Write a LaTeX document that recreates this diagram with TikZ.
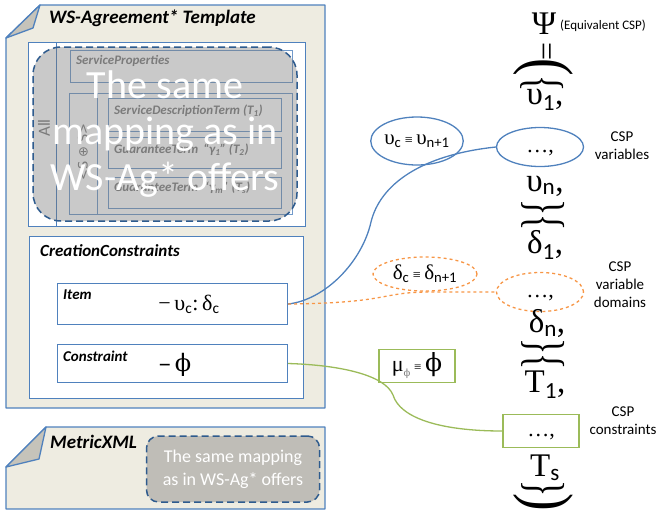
\documentclass[tikz,border=0pt]{standalone}
\usepackage{fontspec}
\usepackage{graphicx}
\setmainfont{Carlito}
\newfontfamily\grk{Liberation Serif}
\newfontfamily\phif{DejaVu Serif}
\newfontfamily\symf{DejaVu Sans}
\usetikzlibrary{shapes.geometric,positioning}

\definecolor{wsblue}{HTML}{4F81BD}
\definecolor{wsbeige}{HTML}{EEECE1}
\definecolor{wsfold}{HTML}{C5C3BA}
\definecolor{wsdash}{HTML}{2E5B8E}
\definecolor{wsgray}{HTML}{808080}
\definecolor{cspgreen}{HTML}{9BBB59}
\definecolor{csporange}{HTML}{F79646}

\newcommand{\cspsub}[1]{\textsubscript{\normalfont #1}}
\newcommand{\hbrace}[1]{\scalebox{0.65}[1]{#1}}

\tikzset{
  note/.style={draw=wsblue, fill=wsbeige, line width=1.3pt, line join=round},
  fold/.style={draw=wsblue, fill=wsfold, line width=1.3pt, line join=round},
  part/.style={draw=wsblue, fill=white, line width=1pt, inner sep=0pt, anchor=north west},
  term/.style={draw=wsblue!80, line width=0.7pt, inner sep=0pt, anchor=north west},
  tag/.style={anchor=west, inner sep=0pt, font=\bfseries\itshape\fontsize{15}{17}\selectfont},
  termtext/.style={anchor=west, inner sep=0pt, text=wsgray, font=\bfseries\itshape\fontsize{13}{15}\selectfont},
  same/.style={draw=wsdash, dash pattern=on 7pt off 4pt, line width=1.5pt, fill=black!55,
    fill opacity=0.38, text opacity=1, text=white, align=center, rounded corners=28pt, inner sep=0pt},
  tuple/.style={inner sep=0pt, font=\grk\fontsize{33}{36}\selectfont},
  bracket/.style={inner sep=0pt, rotate=-90, font=\grk\fontsize{52}{52}\selectfont},
  csplabel/.style={align=center, inner sep=0pt, font=\fontsize{15}{18}\selectfont},
  var/.style={ellipse, draw=wsblue, line width=1.3pt, inner sep=0pt},
  dom/.style={ellipse, draw=csporange, dashed, line width=1.3pt, inner sep=0pt},
  cons/.style={rectangle, draw=cspgreen, line width=1.3pt, inner sep=0pt},
}

\begin{document}
\begin{tikzpicture}[x=1pt,y=-1pt]
\useasboundingbox (0,0) rectangle (658,512);

% WS-Agreement* template
\draw[note] (6,38) -- (40,5) -- (325,5) -- (325,408) -- (6,408) -- cycle;
\draw[fold] (6,38) -- (33,28) -- (40,5) -- cycle;
\node[anchor=west, inner sep=0pt, font=\bfseries\itshape\fontsize{19}{22}\selectfont] (tpltitle) at (49,18) {WS-Agreement* Template};

\node[part, minimum width=277pt, minimum height=184pt] (terms) at (28,42) {};
\draw[wsblue, line width=1pt] (56,42) -- (56,226);
\node[term, minimum width=222pt, minimum height=32pt] (sprops) at (70,50) {};
\node[term, minimum width=223pt, minimum height=121pt] (sdts) at (69,93) {};
\draw[wsblue!80, line width=0.7pt] (97,93) -- (97,214);
\node[term, minimum width=173pt, minimum height=33pt] (sdt) at (108,98) {};
\node[term, minimum width=173pt, minimum height=31pt] (gt1) at (108,137) {};
\node[term, minimum width=173pt, minimum height=31pt] (gtm) at (108,177) {};
\node[termtext] at (76,61) {ServiceProperties};
\node[termtext] at (114,111) {ServiceDescriptionTerm (\textit{T}\textsubscript{1})};
\node[termtext] at (114,150) {GuaranteeTerm \,“γ\textsubscript{1}” (\textit{T}\textsubscript{2})};
\node[termtext] at (114,188) {GuaranteeTerm \,“γ\textsubscript{m}” (\textit{T}\textsubscript{s})};
\node[rotate=90, inner sep=0pt, text=wsgray, font=\fontsize{17}{17}\selectfont] (all) at (44,128) {All};
\node[rotate=90, inner sep=0pt, text=wsgray, font=\symf\fontsize{13}{13}\selectfont] (choice) at (83,152) {<S ⊕ S>};
\node[same, minimum width=264pt, minimum height=174pt, font=\fontsize{40}{46}\selectfont] (tplsame) at (165,134) {The same\\mapping as in\\WS-Ag* offers};

% creation constraints
\node[part, minimum width=274pt, minimum height=162pt] (creation) at (29,236) {};
\node[tag, font=\bfseries\itshape\fontsize{17}{19}\selectfont] at (40,251) {CreationConstraints};
\node[part, minimum width=230pt, minimum height=41pt] (item) at (57,283) {};
\node[tag] at (63,295) {Item};
\node[inner sep=0pt, font=\grk\fontsize{22}{24}\selectfont] (itemdef) at (189,304) {−\,υ\cspsub{c}:\,δ\cspsub{c}};
\node[part, minimum width=230pt, minimum height=38pt] (constraint) at (57,344) {};
\node[tag] at (63,356) {Constraint};
\node[inner sep=0pt, font=\phif\fontsize{24}{28}\selectfont] (consdef) at (175,365) {–\,ϕ};

% MetricXML
\draw[note] (6,467) -- (46,427) -- (325,427) -- (325,509) -- (6,509) -- cycle;
\draw[fold] (6,467) -- (39,459) -- (46,427) -- cycle;
\node[anchor=west, inner sep=0pt, font=\bfseries\itshape\fontsize{19}{21}\selectfont] (metric) at (50,442) {MetricXML};
\node[same, minimum width=173pt, minimum height=66pt, rounded corners=12pt, font=\fontsize{18}{23}\selectfont] (metricsame) at (233,469) {The same mapping\\as in WS-Ag* offers};

% equivalent CSP
\node[tuple] (psi) at (544,24) {Ψ};
\node[anchor=west, inner sep=0pt, font=\fontsize{13}{15}\selectfont] (equiv) at (560,26) {(Equivalent CSP)};
\node[inner sep=0pt, rotate=-90, font=\grk\fontsize{32}{32}\selectfont] (eq) at (544,52) {=};
\node[bracket, font=\grk\fontsize{66}{66}\selectfont] (openall) at (543,67) {\scalebox{0.8}[1]{(}};
\node[bracket] (openvars) at (542,84) {\hbrace{\{}};
\node[tuple] (v1) at (545,100) {υ\cspsub{1},};
\node[var, minimum width=87pt, minimum height=39pt, font=\grk\fontsize{22}{24}\selectfont] (vars) at (540,147) {\vphantom{T}…,};
\node[tuple] (vn) at (545,186) {υ\cspsub{n},};
\node[bracket] (closevars) at (543,208) {\hbrace{\}}};
\node[bracket] (opendoms) at (543,223) {\hbrace{\{}};
\node[tuple] (d1) at (545,245) {δ\cspsub{1},};
\node[dom, minimum width=87pt, minimum height=39pt, font=\grk\fontsize{22}{24}\selectfont] (doms) at (540,292) {\vphantom{T}…,};
\node[tuple] (dn) at (547,324) {δ\cspsub{n},};
\node[bracket] (closedoms) at (543,347) {\hbrace{\}}};
\node[bracket] (opencons) at (543,362) {\hbrace{\{}};
\node[tuple] (t1) at (545,385) {T\cspsub{1},};
\node[cons, minimum width=76pt, minimum height=33pt, font=\grk\fontsize{22}{24}\selectfont] (ops) at (541,431) {\vphantom{T}…,};
\node[tuple] (ts) at (545,468) {T\cspsub{s}};
\node[bracket] (closecons) at (543,489) {\hbrace{\}}};
\node[bracket, font=\grk\fontsize{66}{66}\selectfont] (closeall) at (543,502) {\scalebox{0.8}[1]{)}};

\node[csplabel] (varlabel) at (622,146) {CSP\\variables};
\node[csplabel] (domlabel) at (620,285) {CSP\\variable\\domains};
\node[csplabel] (conslabel) at (623,421) {CSP\\constraints};

% mappings
\node[var, minimum width=87pt, minimum height=48pt, font=\grk\fontsize{21}{24}\selectfont] (vareq) at (417,141) {υ\cspsub{c}\,{\fontsize{14}{14}\selectfont ≡}\,υ\cspsub{n+1}};
\node[dom, minimum width=104pt, minimum height=34pt, font=\grk\fontsize{21}{24}\selectfont] (domeq) at (425,274) {δ\cspsub{c}\,{\fontsize{14}{14}\selectfont ≡}\,δ\cspsub{n+1}};
\node[cons, minimum width=76pt, minimum height=33pt, font=\grk\fontsize{22}{24}\selectfont] (conseq) at (417,366) {μ\raisebox{-5pt}{\textcolor{wsgray}{\phif\fontsize{10}{10}\selectfont ϕ}}\,{\fontsize{13}{13}\selectfont ≡}\,{\phif\fontsize{25}{25}\selectfont ϕ}};

\coordinate (varbend) at (371,222);
\coordinate (consbend) at (393,395);
\draw[wsblue, line width=1.3pt] (item.east) .. controls (325,300) and (362,262) .. (varbend)
  .. controls (380,185) and (420,155) .. (vars.west);
\draw[csporange, dashed, line width=1.3pt] (item.east) .. controls (390,303) and (380,292) .. (430,292) -- (doms.west);
\draw[cspgreen, line width=1.3pt] (constraint.east) .. controls (340,365) and (385,375) .. (consbend)
  .. controls (400,418) and (440,431) .. (ops.west);
\end{tikzpicture}
\end{document}
